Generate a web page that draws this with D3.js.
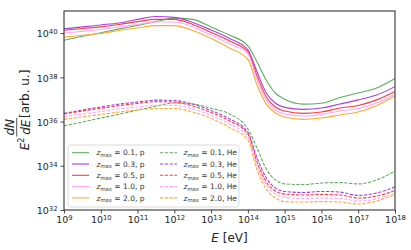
<!DOCTYPE html>
<html>
<head>
<meta charset="utf-8">
<script src="https://cdn.jsdelivr.net/npm/d3@7"></script>
<style>
body{margin:0;background:#fff}
svg{display:block;font-family:"DejaVu Sans",sans-serif}
</style>
</head>
<body>
<svg id="chart" width="411" height="250"></svg>
<script>
// energy grid, log10(E / eV)
var logE = [9, 9.5, 10, 10.5, 11, 11.5, 12, 12.5, 13, 13.5, 14, 14.25, 14.5, 14.75, 15, 15.5, 16, 16.5, 17, 17.5, 18];

// log10 of E^2 dN/dE, protons
var p_z01 = [39.68, 39.86, 40.02, 40.19, 40.35, 40.52, 40.68, 40.62, 40.28, 39.91, 39.42, 38.69, 37.87, 37.28, 37.01, 36.79, 36.83, 37.09, 37.29, 37.52, 37.95];
var p_z03 = [40.19, 40.28, 40.37, 40.46, 40.62, 40.75, 40.71, 40.48, 40.14, 39.76, 39.24, 38.24, 37.29, 36.83, 36.64, 36.55, 36.61, 36.79, 36.98, 37.20, 37.58];
var p_z05 = [40.13, 40.21, 40.28, 40.39, 40.52, 40.62, 40.62, 40.39, 40.03, 39.64, 39.16, 38.06, 37.11, 36.66, 36.48, 36.37, 36.43, 36.61, 36.73, 36.98, 37.36];
var p_z10 = [40.00, 40.08, 40.16, 40.28, 40.39, 40.50, 40.50, 40.28, 39.91, 39.51, 39.06, 37.88, 36.98, 36.52, 36.34, 36.25, 36.32, 36.48, 36.59, 36.84, 37.25];
var p_z20 = [39.82, 39.90, 39.98, 40.12, 40.23, 40.34, 40.34, 40.12, 39.76, 39.33, 38.81, 37.65, 36.79, 36.39, 36.21, 36.10, 36.16, 36.30, 36.43, 36.73, 37.16];

// log10 of E^2 dN/dE, helium
var he_z01 = [35.80, 35.98, 36.16, 36.33, 36.52, 36.70, 36.84, 36.79, 36.60, 36.34, 35.66, 34.80, 33.85, 33.36, 33.18, 33.15, 33.22, 33.24, 33.18, 33.36, 33.76];
var he_z03 = [36.37, 36.52, 36.66, 36.79, 36.88, 36.97, 36.95, 36.79, 36.50, 36.12, 35.51, 34.35, 33.45, 32.99, 32.84, 32.79, 32.84, 32.81, 32.66, 32.77, 33.04];
var he_z05 = [36.34, 36.48, 36.60, 36.72, 36.82, 36.90, 36.88, 36.70, 36.41, 36.03, 35.44, 34.17, 33.27, 32.86, 32.72, 32.68, 32.70, 32.68, 32.54, 32.63, 32.88];
var he_z10 = [36.22, 36.34, 36.45, 36.57, 36.66, 36.74, 36.73, 36.57, 36.27, 35.89, 35.30, 33.99, 33.13, 32.72, 32.57, 32.52, 32.54, 32.52, 32.41, 32.50, 32.77];
var he_z20 = [36.10, 36.21, 36.32, 36.43, 36.52, 36.59, 36.59, 36.43, 36.14, 35.73, 35.17, 33.81, 32.95, 32.54, 32.38, 32.36, 32.38, 32.36, 32.27, 32.41, 32.70];

var zmax = ["0.1", "0.3", "0.5", "1.0", "2.0"];
var proton = [p_z01, p_z03, p_z05, p_z10, p_z20];
var helium = [he_z01, he_z03, he_z05, he_z10, he_z20];
var colors = ["#5cb05c", "#a83fe0", "#ff3b3b", "#ffa6ff", "#ffab33"];

var xTickExp = [9, 10, 11, 12, 13, 14, 15, 16, 17, 18];
var yTickExp = [32, 34, 36, 38, 40];

var svg = d3.select("#chart");
var pLeft = 64, pRight = 395, pTop = 11, pBottom = 210;

var x = d3.scaleLog().domain([1e9, 1e18]).range([pLeft, pRight]);
var y = d3.scaleLog().domain([1e32, 1e41]).range([pBottom, pTop]);

var line = d3.line()
    .x(function(d){ return x(d[0]); })
    .y(function(d){ return y(d[1]); })
    .curve(d3.curveMonotoneX);

function toPoints(arr){
    return arr.map(function(v, i){ return [Math.pow(10, logE[i]), Math.pow(10, v)]; });
}

/* 軸 */
function sup(sel, exp){
    sel.text("");
    sel.append("tspan").text("10");
    sel.append("tspan").attr("dy", "-0.45em").attr("font-size", "0.72em").text(exp);
}

var minorX = [];
for(var k = 9; k < 18; k++){
    for(var m = 2; m < 10; m++) minorX.push(m * Math.pow(10, k));
}

var gx = svg.append("g").attr("transform", "translate(0," + pBottom + ")");
gx.call(d3.axisBottom(x).tickValues(minorX).tickSize(2).tickFormat(function(){ return ""; }));
gx.call(d3.axisBottom(x).tickValues(xTickExp.map(function(e){ return Math.pow(10, e); }))
    .tickSize(3.5).tickPadding(3).tickFormat(function(){ return ""; }));
gx.selectAll(".tick text").each(function(d){
    sup(d3.select(this), Math.round(Math.log10(d)));
});

var gy = svg.append("g").attr("transform", "translate(" + pLeft + ",0)");
gy.call(d3.axisLeft(y).tickValues(yTickExp.map(function(e){ return Math.pow(10, e); }))
    .tickSize(3.5).tickPadding(3).tickFormat(function(){ return ""; }));
gy.selectAll(".tick text").each(function(d){
    sup(d3.select(this), Math.round(Math.log10(d)));
}).attr("dy", "0.4em");

svg.selectAll(".domain").remove();
svg.selectAll(".tick line").attr("stroke", "#333").attr("stroke-width", 0.9);
svg.selectAll(".tick text").attr("fill", "#262626").attr("font-size", 9.5).attr("font-family", "DejaVu Sans");

/* 曲線 */
var curves = svg.append("g");
helium.forEach(function(s, i){
    curves.append("path").datum(toPoints(s))
        .attr("d", line).attr("fill", "none")
        .attr("stroke", colors[i]).attr("stroke-width", 1.1)
        .attr("stroke-dasharray", "3.3,1.5");
});
proton.forEach(function(s, i){
    curves.append("path").datum(toPoints(s))
        .attr("d", line).attr("fill", "none")
        .attr("stroke", colors[i]).attr("stroke-width", 1.1);
});

// 枠
svg.append("rect").attr("x", pLeft).attr("y", pTop)
    .attr("width", pRight - pLeft).attr("height", pBottom - pTop)
    .attr("fill", "none").attr("stroke", "#333").attr("stroke-width", 1.1);

/* 凡例 */
var lg = svg.append("g");
lg.append("rect").attr("x", 68).attr("y", 145).attr("width", 171).attr("height", 62)
    .attr("rx", 2.5).attr("fill", "#fff").attr("fill-opacity", 0.8)
    .attr("stroke", "#d0d0d0").attr("stroke-width", 0.8);

function legendLabel(g, tx, ty, z, kind){
    var t = g.append("text").attr("x", tx).attr("y", ty)
        .attr("font-size", 7.5).attr("fill", "#333");
    t.append("tspan").attr("font-style", "italic").text("z");
    t.append("tspan").attr("font-size", 5.3).attr("dy", 1.6).text("max");
    t.append("tspan").attr("dy", -1.6).text(" = " + z + ", " + kind);
}

zmax.forEach(function(z, i){
    var ry = 152.7 + i * 11.3;
    lg.append("line").attr("x1", 72).attr("x2", 89).attr("y1", ry).attr("y2", ry)
        .attr("stroke", colors[i]).attr("stroke-width", 1.1);
    legendLabel(lg, 96.5, ry + 2.7, z, "p");
    lg.append("line").attr("x1", 160).attr("x2", 177).attr("y1", ry).attr("y2", ry)
        .attr("stroke", colors[i]).attr("stroke-width", 1.1).attr("stroke-dasharray", "3.3,1.5");
    legendLabel(lg, 183.5, ry + 2.7, z, "He");
});

/* ラベル */
var xl = svg.append("text").attr("x", (pLeft + pRight) / 2).attr("y", 242)
    .attr("text-anchor", "middle").attr("font-size", 12).attr("fill", "#262626");
xl.append("tspan").attr("font-style", "italic").text("E");
xl.append("tspan").text(" [eV]");

var yl = svg.append("g").attr("transform", "translate(29,110) rotate(-90)")
    .attr("fill", "#262626").attr("font-size", 12);
var e2 = yl.append("text").attr("y", 0);
e2.append("tspan").attr("font-style", "italic").text("E");
e2.append("tspan").attr("dy", -5).attr("font-size", 8.2).text("2");
var num = yl.append("text").attr("font-style", "italic").attr("text-anchor", "middle").attr("y", -15).text("dN");
var den = yl.append("text").attr("font-style", "italic").attr("text-anchor", "middle").attr("y", 1).text("dE");
var bar = yl.append("line").attr("stroke", "#262626").attr("stroke-width", 0.8);
var unit = yl.append("text").attr("y", 0).text(" [arb. u.]");

var wE = e2.node().getComputedTextLength();
var wF = Math.max(num.node().getComputedTextLength(), den.node().getComputedTextLength()) + 2;
var wU = unit.node().getComputedTextLength();
var total = wE + 1 + wF + wU;
var x0 = -total / 2;
e2.attr("x", x0);
num.attr("x", x0 + wE + 1 + wF / 2);
den.attr("x", x0 + wE + 1 + wF / 2);
bar.attr("x1", x0 + wE + 1).attr("x2", x0 + wE + 1 + wF).attr("y1", -12.3).attr("y2", -12.3);
unit.attr("x", x0 + wE + 1 + wF);
</script>
</body>
</html>
